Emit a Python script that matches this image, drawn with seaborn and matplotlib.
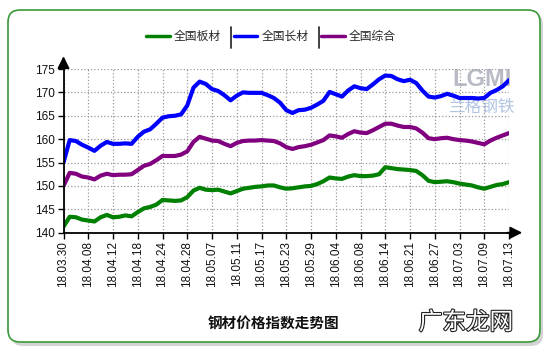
import numpy as np
import pandas as pd
import matplotlib
matplotlib.use("Agg")
import matplotlib.pyplot as plt
import seaborn as sns
from matplotlib.patches import FancyBboxPatch
from matplotlib.lines import Line2D
import matplotlib.patheffects as pe

# ---------------- data ----------------
tick_labels = ["18.03.30", "18.04.08", "18.04.12", "18.04.18", "18.04.24", "18.04.28",
               "18.05.07", "18.05.11", "18.05.17", "18.05.23", "18.05.29", "18.06.04",
               "18.06.08", "18.06.14", "18.06.21", "18.06.27", "18.07.03", "18.07.09",
               "18.07.13"]

series_names = ["全国板材", "全国长材", "全国综合"]

plate = [141.3, 143.4, 143.3, 142.8, 142.6, 142.4, 143.3, 143.8, 143.3, 143.4,
         143.7, 143.5, 144.4, 145.2, 145.5, 146.0, 147.0, 146.9, 146.8, 146.9,
         147.6, 149.0, 149.6, 149.2, 149.1, 149.2, 148.8, 148.4, 148.9, 149.4,
         149.6, 149.8, 149.9, 150.1, 150.1, 149.7, 149.4, 149.5, 149.7, 149.9,
         150.0, 150.4, 151.0, 151.8, 151.6, 151.5, 152.0, 152.3, 152.1, 152.1,
         152.2, 152.5, 154.0, 153.8, 153.6, 153.5, 153.4, 153.2, 152.3, 151.1,
         150.8, 150.9, 151.0, 150.8, 150.5, 150.3, 150.1, 149.7, 149.4, 149.8,
         150.2, 150.4, 150.8]

long_steel = [155.0, 159.8, 159.6, 158.8, 158.2, 157.5, 158.6, 159.4, 159.0, 159.0,
              159.1, 159.0, 160.5, 161.6, 162.1, 163.3, 164.6, 164.9, 165.0, 165.3,
              167.2, 171.0, 172.3, 171.8, 170.7, 170.3, 169.4, 168.3, 169.3, 170.0,
              169.9, 169.9, 169.9, 169.4, 168.8, 167.8, 166.2, 165.6, 166.2, 166.3,
              166.7, 167.4, 168.2, 170.1, 169.6, 169.1, 170.4, 171.3, 170.9, 170.7,
              171.7, 172.8, 173.6, 173.5, 172.8, 172.4, 172.7, 172.0, 170.4, 169.1,
              168.9, 169.2, 169.7, 169.3, 168.8, 168.8, 168.8, 168.7, 168.8, 169.9,
              170.5, 171.3, 172.6]

composite = [150.0, 152.8, 152.6, 152.0, 151.8, 151.4, 152.2, 152.6, 152.3, 152.4,
             152.4, 152.5, 153.4, 154.3, 154.7, 155.5, 156.4, 156.4, 156.4, 156.7,
             157.4, 159.4, 160.5, 160.1, 159.7, 159.6, 159.0, 158.5, 159.2, 159.6,
             159.7, 159.7, 159.8, 159.7, 159.6, 159.1, 158.3, 157.9, 158.3, 158.5,
             158.8, 159.3, 159.8, 160.8, 160.6, 160.3, 161.1, 161.7, 161.4, 161.3,
             161.9, 162.6, 163.3, 163.3, 162.9, 162.6, 162.6, 162.3, 161.4, 160.2,
             160.0, 160.2, 160.3, 160.0, 159.8, 159.7, 159.5, 159.2, 158.9, 159.7,
             160.3, 160.8, 161.3]

y_ticks = [140, 145, 150, 155, 160, 165, 170, 175]
colors = ["#008000", "#0000FF", "#800080"]

# ---------------- style ----------------
sns.set_theme(style="white")
plt.rcParams['font.family'] = ['Liberation Sans', 'Noto Sans CJK SC', 'DejaVu Sans']

W, H = 550, 353
fig = plt.figure(figsize=(W / 100, H / 100), dpi=100)
fig.patch.set_facecolor("white")

# background axes in pixel coordinates
bg = fig.add_axes([0, 0, 1, 1], zorder=-1)
bg.set_xlim(0, W)
bg.set_ylim(H, 0)
bg.axis("off")

shadow = FancyBboxPatch((11, 13), 532, 333, boxstyle="round,pad=0,rounding_size=12",
                        fc="#d4d4d4", ec="none")
bg.add_patch(shadow)
border = FancyBboxPatch((8, 10), 532, 332, boxstyle="round,pad=0,rounding_size=12",
                        fc="white", ec="#3a9a3a", lw=1.2)
bg.add_patch(border)

# watermark inside the plot
bg.text(482, 80, "LGMI", ha="center", va="center", fontsize=17, fontweight="bold",
        color="#a0a4b4", alpha=0.75)
bg.text(481, 107, "兰格钢铁", ha="center", va="center", fontsize=12,
        color="#a9bfe0", alpha=0.9)

# legend separators
for sx in (231, 318.5):
    bg.plot([sx, sx], [27, 48], color="#333333", lw=1.3)

# bottom title and watermark
bg.text(273, 324, "钢材价格指数走势图", ha="center", va="center", fontsize=10.5,
        fontweight="bold", color="#111111")
bg.text(466, 323, "广东龙网", ha="center", va="center", fontsize=17, color="white",
        path_effects=[pe.withStroke(linewidth=1.6, foreground="#222222")])

# main axes
x0, x1, ytop, ybot = 63.5, 509, 69, 232.7
ax = fig.add_axes([x0 / W, 1 - ybot / H, (x1 - x0) / W, (ybot - ytop) / H])
ax.set_facecolor("none")

n = len(plate)
df = pd.DataFrame({
    "idx": np.tile(np.arange(n), 3),
    "value": plate + long_steel + composite,
    "series": np.repeat(series_names, n),
})
sns.lineplot(data=df, x="idx", y="value", hue="series",
             palette=dict(zip(series_names, colors)), linewidth=3.0,
             ax=ax, legend=False)

ax.set_xlim(0, n - 1)
ax.set_ylim(140, 175)
ax.set_xticks(np.arange(0, n, 4))
ax.set_xticklabels(tick_labels, rotation=90)
ax.set_yticks(y_ticks)
ax.set_xlabel("")
ax.set_ylabel("")
ax.grid(True, linestyle=":", color="#999999", linewidth=0.9)
ax.set_axisbelow(True)

for s in ("top", "right"):
    ax.spines[s].set_visible(False)
for s in ("left", "bottom"):
    ax.spines[s].set_color("black")
    ax.spines[s].set_linewidth(1.3)
ax.tick_params(bottom=True, left=True, direction="out", length=4, width=1,
               color="black", labelsize=8.5, pad=2, labelcolor="#111111")

# axis arrows
ax.annotate("", xy=(0, 1.095), xytext=(0, 0.99), xycoords="axes fraction",
            arrowprops=dict(arrowstyle="-|>,head_length=0.8,head_width=0.4",
                            color="black", lw=1.3, mutation_scale=9),
            annotation_clip=False)
ax.annotate("", xy=(1.036, 0), xytext=(0.99, 0), xycoords="axes fraction",
            arrowprops=dict(arrowstyle="-|>,head_length=0.8,head_width=0.4",
                            color="black", lw=1.3, mutation_scale=9),
            annotation_clip=False)

# legend
handles = [Line2D([0], [0], color=c, lw=2.5) for c in colors]
fig.legend(handles, series_names, loc="center", bbox_to_anchor=(271 / W, 1 - 37 / H),
           ncol=3, frameon=False, fontsize=8.5, handlelength=2.0,
           handletextpad=0.35, columnspacing=1.1)

fig.savefig("out.png", dpi=100)
